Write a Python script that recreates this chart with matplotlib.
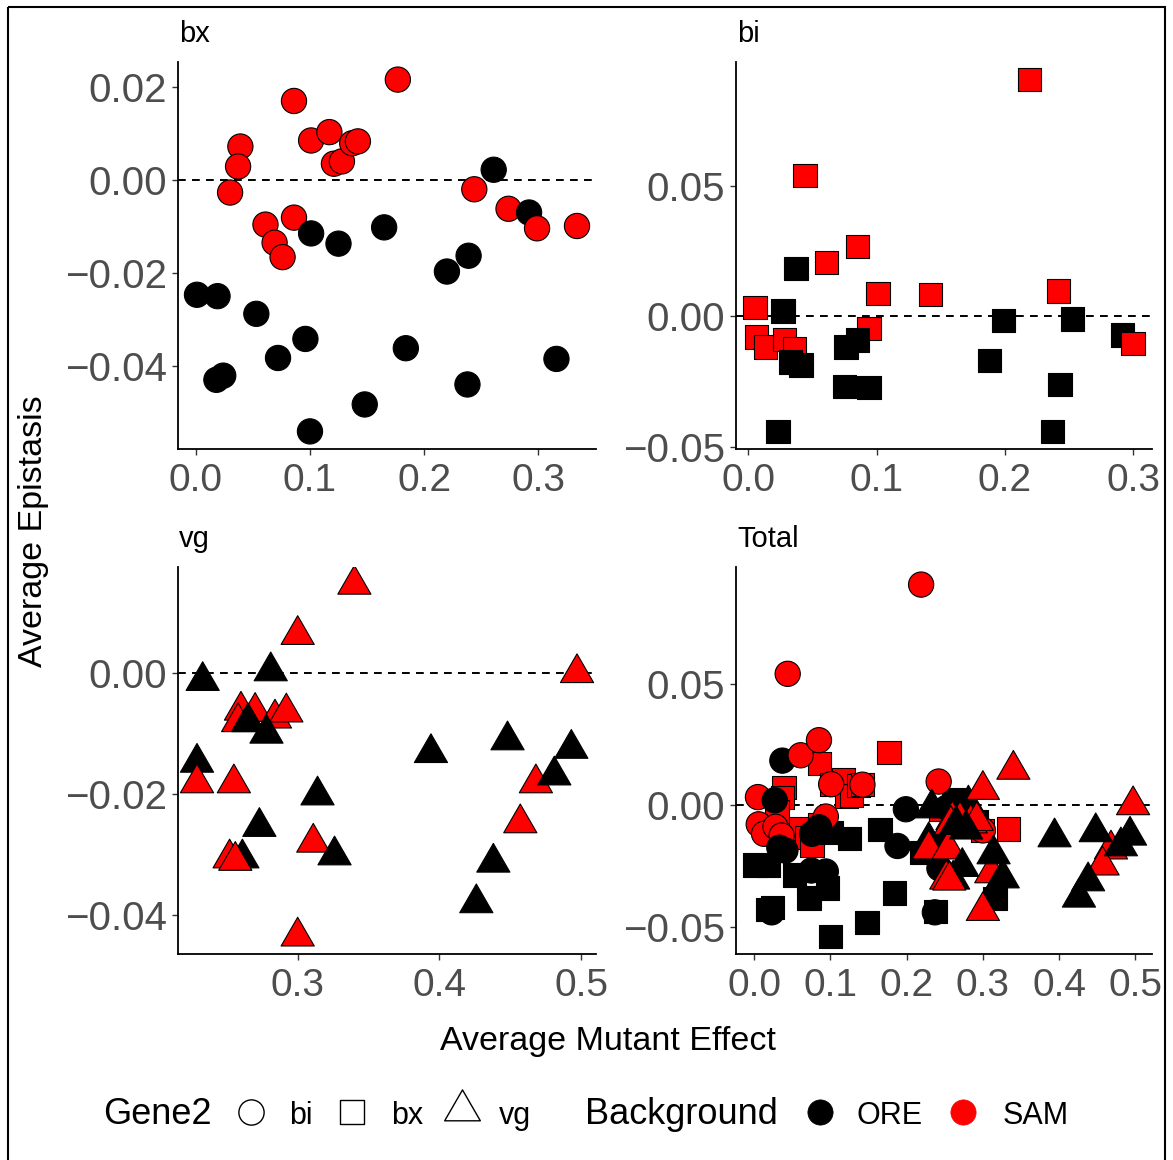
import matplotlib
matplotlib.use("Agg")
import matplotlib.pyplot as plt
from matplotlib.path import Path
from matplotlib.patches import Rectangle
import numpy as np

plt.rcParams['font.family'] = ['Liberation Sans', 'DejaVu Sans']

W, H = 1173, 1160

# facet bx  (Gene2 = bi, drawn as circles)
bx_x = [0.001, 0.019, 0.053, 0.096, 0.072, 0.184, 0.316, 0.018, 0.024, 0.238, 0.148, 0.100,
        0.220, 0.239, 0.165, 0.125,
        0.177, 0.086, 0.039, 0.037, 0.030, 0.101, 0.117, 0.121, 0.128, 0.137, 0.142,
        0.061, 0.069, 0.076, 0.086, 0.101, 0.244, 0.261, 0.274, 0.292, 0.299, 0.334]
bx_y = [-0.0246, -0.0249, -0.0287, -0.0341, -0.0382, -0.0361, -0.0384, -0.0429, -0.0420, -0.0439,
        -0.0482, -0.0540, -0.0196, -0.0162, -0.0101, -0.0136,
        0.0217, 0.0171, 0.0073, 0.0030, -0.0026, 0.0086, 0.0104, 0.0036, 0.0041, 0.0080, 0.0084,
        -0.0095, -0.0134, -0.0165, -0.0080, -0.0114, -0.0019, 0.0023, -0.0061, -0.0069, -0.0103,
        -0.0098]
bx_bg = ['ORE'] * 16 + ['SAM'] * 15 + ['ORE', 'SAM', 'ORE', 'SAM', 'ORE', 'SAM', 'SAM']

# facet bi  (Gene2 = bx, drawn as squares)
bi_x = [0.023, 0.237, 0.075, 0.094, 0.243, 0.188, 0.199, 0.253, 0.292, 0.037,
        0.219, 0.044, 0.061, 0.085, 0.101, 0.142, 0.242, 0.005, 0.006, 0.013, 0.028, 0.036,
        0.094, 0.300,
        0.027, 0.033, 0.041, 0.076, 0.085]
bi_y = [-0.0441, -0.0441, -0.0269, -0.0273, -0.0260, -0.0168, -0.0017, -0.0010, -0.0072, 0.0183,
        0.0907, 0.0540, 0.0205, 0.0267, 0.0086, 0.0084, 0.0097, 0.0033, -0.0079, -0.0118, -0.0089,
        -0.0125, -0.0047, -0.0104,
        0.0020, -0.0175, -0.0187, -0.0118, -0.0091]
bi_bg = ['ORE'] * 10 + ['SAM'] * 14 + ['ORE'] * 5

# facet vg  (Gene2 = vg, drawn as triangles)
vg_x = [0.229, 0.233, 0.281,
        0.340, 0.300, 0.497, 0.260, 0.270, 0.284, 0.292, 0.258, 0.229, 0.255, 0.468, 0.457,
        0.311, 0.252, 0.300,
        0.265, 0.278, 0.394, 0.448, 0.493, 0.481, 0.314, 0.273, 0.261, 0.326, 0.438, 0.426,
        0.256]
vg_y = [-0.0148, -0.0013, 0.0003,
        0.0146, 0.0063, 0.0000, -0.0062, -0.0064, -0.0075, -0.0065, -0.0081, -0.0182, -0.0182,
        -0.0182, -0.0248, -0.0280, -0.0306, -0.0435,
        -0.0081, -0.0100, -0.0132, -0.0111, -0.0125, -0.0169, -0.0202, -0.0254, -0.0306, -0.0301,
        -0.0313, -0.0380,
        -0.0310]
vg_bg = ['ORE'] * 3 + ['SAM'] * 15 + ['ORE'] * 12 + ['SAM']

bg_colors = {'ORE': 'black', 'SAM': '#FF0000'}
gene2_labels = ['bi', 'bx', 'vg']
bg_labels = ['ORE', 'SAM']

# R style triangle, centred on the centroid
TRI = Path([(0, 1.555), (1.347, -0.778), (-1.347, -0.778), (0, 1.555)],
           [Path.MOVETO, Path.LINETO, Path.LINETO, Path.CLOSEPOLY])
SIZES = {'o': 330, 's': 280, TRI: 760}

TICK_GREY = '#4D4D4D'


def px(l, t, r, b):
    return [l / W, 1 - b / H, (r - l) / W, (b - t) / H]


def expand(v, m=0.05):
    lo, hi = min(v), max(v)
    d = (hi - lo) * m
    return lo - d, hi + d


def fmt(v, n):
    return ('%.*f' % (n, v)).replace('-', '\u2212')


def panel(rect, title, layers, xticks, yticks):
    ax = fig.add_axes(px(*rect))
    allx, ally = [], []
    for xs, ys, bgs, mk in layers:
        allx += xs
        ally += ys
    ax.set_xlim(*expand(allx))
    ax.set_ylim(*expand(ally))
    ax.axhline(0, color='black', lw=1.4, ls=(0, (4, 3.2)), zorder=1)
    for xs, ys, bgs, mk in layers:
        ax.scatter(xs, ys, s=SIZES[mk], marker=mk, c=[bg_colors[b] for b in bgs],
                   edgecolors='black', linewidths=0.8, zorder=2)
    for side in ['top', 'right']:
        ax.spines[side].set_visible(False)
    for side in ['left', 'bottom']:
        ax.spines[side].set_linewidth(1.3)
    ax.set_xticks(xticks)
    ax.set_xticklabels([fmt(v, 1) for v in xticks])
    ax.set_yticks(yticks)
    ax.set_yticklabels([fmt(v, 2) for v in yticks])
    ax.tick_params(axis='x', labelsize=28, colors='#333333', labelcolor=TICK_GREY,
                   length=4.5, width=1, pad=5.5)
    ax.tick_params(axis='y', labelsize=29, colors='#333333', labelcolor=TICK_GREY,
                   length=4.5, width=1, pad=3.5)
    fig.text((rect[0] + 1) / W, 1 - (rect[1] - 20) / H, title, fontsize=21,
             ha='left', va='baseline')
    return ax


fig = plt.figure(figsize=(W / 100, H / 100), dpi=100)

panel((178, 62, 596, 449), 'bx', [(bx_x, bx_y, bx_bg, 'o')],
      [0.0, 0.1, 0.2, 0.3], [-0.04, -0.02, 0.0, 0.02])
panel((736, 62, 1152, 449), 'bi', [(bi_x, bi_y, bi_bg, 's')],
      [0.0, 0.1, 0.2, 0.3], [-0.05, 0.0, 0.05])
panel((178, 567, 596, 954), 'vg', [(vg_x, vg_y, vg_bg, TRI)],
      [0.3, 0.4, 0.5], [-0.04, -0.02, 0.0])
panel((736, 567, 1152, 954), 'Total',
      [(bx_x, bx_y, bx_bg, 's'), (bi_x, bi_y, bi_bg, 'o'), (vg_x, vg_y, vg_bg, TRI)],
      [0.0, 0.1, 0.2, 0.3, 0.4, 0.5], [-0.05, 0.0, 0.05])

fig.text(608 / W, 1 - 1050 / H, 'Average Mutant Effect', fontsize=24.5,
         ha='center', va='baseline')
fig.text(34 / W, 1 - 531 / H, 'Average Epistasis', fontsize=24.5,
         ha='center', va='center', rotation=90)

# legend drawn on an overlay in pixel units
lg = fig.add_axes([0, 0, 1, 1])
lg.set_xlim(0, W)
lg.set_ylim(H, 0)
lg.axis('off')
base = 1124
lg.text(103, base, 'Gene2', fontsize=26, ha='left', va='baseline')
for mk, cx, tx, lab in zip(['o', 's', TRI], [250.5, 351.5, 462], [289, 391, 499], gene2_labels):
    s = {'o': 330, 's': 300, TRI: 880}[mk]
    lg.scatter([cx], [1110 if mk == TRI else 1112], s=s, marker=mk, facecolors='white',
               edgecolors='black', linewidths=1.0)
    lg.text(tx, base, lab, fontsize=22, ha='left', va='baseline')
lg.text(585, base, 'Background', fontsize=26, ha='left', va='baseline')
for cx, tx, lab in zip([820, 963], [856, 1003], bg_labels):
    lg.scatter([cx], [1112], s=330, marker='o', facecolors=bg_colors[lab],
               edgecolors=bg_colors[lab], linewidths=0.5)
    lg.text(tx, base, lab, fontsize=22, ha='left', va='baseline')

# outer frame
lg.add_patch(Rectangle((8, 7), 1157, 1200, fill=False, lw=1.5, ec='black', clip_on=False))

fig.savefig('out.png', dpi=100)
